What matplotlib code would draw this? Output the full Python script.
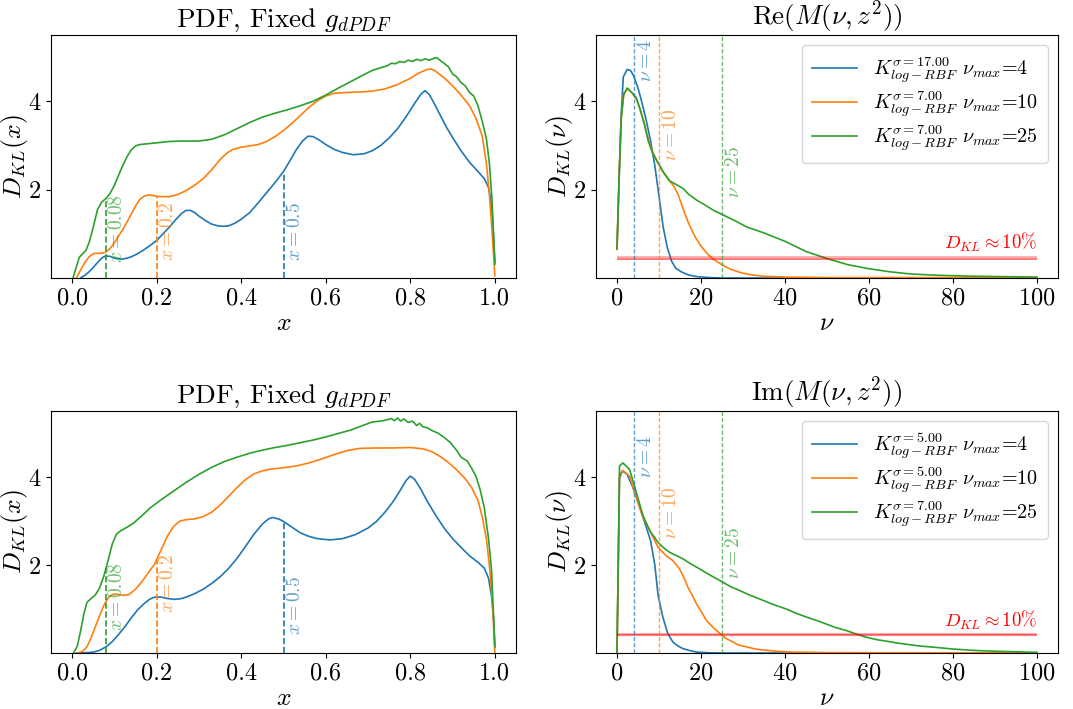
import numpy as np
import matplotlib
matplotlib.use("Agg")
import matplotlib.pyplot as plt

plt.rcParams.update({
    "font.family": "serif",
    "font.serif": ["cmr10", "DejaVu Serif"],
    "mathtext.fontset": "cm",
    "axes.formatter.use_mathtext": True,
    "axes.unicode_minus": False,
})

C_BLUE, C_ORANGE, C_GREEN = "#1f77b4", "#ff7f0e", "#2ca02c"

# ---------------- Top-left: PDF, fixed g_dPDF ----------------
tl_blue_x = [0.02, 0.03, 0.04, 0.05, 0.06, 0.07, 0.079, 0.09, 0.10, 0.11, 0.12, 0.13, 0.14, 0.155,
             0.17, 0.185, 0.2, 0.215, 0.23, 0.245, 0.26, 0.27, 0.28, 0.29, 0.30, 0.315, 0.33, 0.345,
             0.357, 0.37, 0.385, 0.40, 0.42, 0.44, 0.46, 0.48, 0.50, 0.515, 0.53, 0.545, 0.558,
             0.57, 0.585, 0.60, 0.62, 0.64, 0.665, 0.69, 0.71, 0.73, 0.75, 0.77, 0.79, 0.81, 0.825,
             0.835, 0.845, 0.855, 0.87, 0.885, 0.90, 0.92, 0.94, 0.96, 0.975, 0.985, 0.99, 0.995, 1.0]
tl_blue_y = [0.0, 0.06, 0.14, 0.24, 0.35, 0.45, 0.50, 0.49, 0.45, 0.43, 0.43, 0.45, 0.48, 0.55,
             0.64, 0.74, 0.85, 1.0, 1.15, 1.32, 1.47, 1.53, 1.53, 1.48, 1.40, 1.30, 1.22, 1.18,
             1.17, 1.18, 1.24, 1.33, 1.48, 1.70, 1.93, 2.16, 2.41, 2.65, 2.90, 3.10, 3.21,
             3.20, 3.12, 3.02, 2.91, 2.84, 2.79, 2.81, 2.88, 3.00, 3.17, 3.38, 3.65, 3.95, 4.16,
             4.24, 4.15, 3.98, 3.70, 3.42, 3.18, 2.88, 2.62, 2.41, 2.25, 2.05, 1.80, 1.30, 0.35]
tl_orange_x = [0.01, 0.02, 0.03, 0.04, 0.05, 0.06, 0.07, 0.08, 0.09, 0.10, 0.11, 0.12, 0.13, 0.14,
               0.15, 0.16, 0.17, 0.18, 0.19, 0.20, 0.215, 0.23, 0.25, 0.27, 0.29, 0.31, 0.33, 0.35,
               0.365, 0.38, 0.40, 0.42, 0.44, 0.46, 0.48, 0.50, 0.52, 0.54, 0.56, 0.58, 0.60, 0.62,
               0.65, 0.68, 0.71, 0.74, 0.77, 0.80, 0.82, 0.84, 0.85, 0.86, 0.88, 0.90, 0.92, 0.94,
               0.955, 0.97, 0.98, 0.987, 0.993, 1.0]
tl_orange_y = [0.0, 0.18, 0.35, 0.48, 0.55, 0.56, 0.56, 0.59, 0.67, 0.80, 0.95, 1.10, 1.27, 1.45,
               1.63, 1.78, 1.85, 1.88, 1.87, 1.85, 1.84, 1.84, 1.89, 1.98, 2.10, 2.25, 2.45, 2.68,
               2.82, 2.91, 2.96, 2.99, 3.02, 3.09, 3.20, 3.34, 3.50, 3.68, 3.86, 4.01, 4.12, 4.18,
               4.20, 4.21, 4.23, 4.28, 4.38, 4.52, 4.64, 4.72, 4.73, 4.68, 4.53, 4.35, 4.14, 3.90,
               3.62, 3.22, 2.60, 1.90, 1.10, 0.05]
tl_green_x = [0.002, 0.01, 0.017, 0.025, 0.033, 0.04, 0.05, 0.06, 0.07, 0.08, 0.09, 0.10, 0.11,
              0.12, 0.13, 0.14, 0.15, 0.16, 0.18, 0.20, 0.23, 0.26, 0.30, 0.33, 0.36, 0.39, 0.42,
              0.45, 0.48, 0.51, 0.54, 0.57, 0.60, 0.63, 0.66, 0.69, 0.71, 0.73, 0.745, 0.755, 0.765,
              0.775, 0.785, 0.795, 0.805, 0.815, 0.825, 0.835, 0.845, 0.855, 0.862, 0.87, 0.88,
              0.89, 0.90, 0.91, 0.92, 0.93, 0.94, 0.95, 0.96, 0.97, 0.98, 0.987, 0.993, 1.0]
tl_green_y = [0.0, 0.25, 0.47, 0.55, 0.63, 0.80, 1.15, 1.55, 1.72, 1.80, 1.92, 2.10, 2.33,
              2.55, 2.75, 2.90, 2.99, 3.02, 3.04, 3.06, 3.09, 3.10, 3.10, 3.14, 3.24, 3.38, 3.52,
              3.64, 3.73, 3.81, 3.90, 4.00, 4.14, 4.30, 4.45, 4.60, 4.70, 4.76, 4.80, 4.86, 4.85,
              4.90, 4.88, 4.93, 4.90, 4.95, 4.92, 4.96, 4.93, 4.97, 4.99, 4.93, 4.86,
              4.78, 4.62, 4.55, 4.42, 4.35, 4.20, 4.12, 3.90, 3.55, 3.15, 2.60, 1.80, 0.31]

# ---------------- Bottom-left ----------------
bl_blue_x = [0.01, 0.03, 0.05, 0.065, 0.08, 0.095, 0.11, 0.125, 0.14, 0.155, 0.17, 0.183, 0.195,
             0.21, 0.225, 0.24, 0.255, 0.27, 0.29, 0.31, 0.33, 0.35, 0.37, 0.39, 0.41, 0.43, 0.45,
             0.465, 0.475, 0.49, 0.50, 0.52, 0.54, 0.56, 0.58, 0.61, 0.64, 0.67, 0.70, 0.72, 0.74,
             0.76, 0.775, 0.79, 0.80, 0.81, 0.825, 0.84, 0.86, 0.88, 0.90, 0.92, 0.94, 0.96, 0.975,
             0.985, 0.992, 0.997, 1.0]
bl_blue_y = [0.0, 0.005, 0.02, 0.06, 0.14, 0.26, 0.42, 0.60, 0.80, 0.98, 1.12, 1.22, 1.27,
             1.27, 1.24, 1.22, 1.23, 1.27, 1.35, 1.45, 1.58, 1.73, 1.92, 2.15, 2.42, 2.70, 2.93,
             3.05, 3.08, 3.04, 2.99, 2.86, 2.73, 2.65, 2.60, 2.57, 2.60, 2.69, 2.84, 2.99, 3.20,
             3.45, 3.68, 3.92, 4.02, 3.95, 3.72, 3.45, 3.13, 2.84, 2.60, 2.40, 2.21, 2.06, 1.93,
             1.70, 1.30, 0.80, 0.14]
bl_orange_x = [0.013, 0.025, 0.035, 0.045, 0.055, 0.065, 0.075, 0.085, 0.095, 0.105, 0.12, 0.135,
               0.15, 0.165, 0.18, 0.195, 0.21, 0.225, 0.24, 0.255, 0.27, 0.29, 0.31, 0.33, 0.35,
               0.37, 0.39, 0.41, 0.43, 0.45, 0.47, 0.50, 0.53, 0.56, 0.59, 0.62, 0.65, 0.68, 0.72,
               0.76, 0.80, 0.83, 0.85, 0.87, 0.89, 0.91, 0.93, 0.945, 0.96, 0.97, 0.98, 0.988,
               0.994, 1.0]
bl_orange_y = [0.0, 0.04, 0.14, 0.35, 0.60, 0.85, 1.08, 1.25, 1.33, 1.34, 1.31, 1.33,
               1.45, 1.62, 1.82, 2.02, 2.33, 2.65, 2.88, 3.00, 3.03, 3.05, 3.10, 3.20, 3.36,
               3.56, 3.76, 3.94, 4.07, 4.14, 4.18, 4.21, 4.25, 4.32, 4.41, 4.51, 4.60, 4.65, 4.66,
               4.66, 4.67, 4.64, 4.58, 4.47, 4.33, 4.16, 3.96, 3.76, 3.47, 3.10, 2.60, 1.90,
               1.20, 0.02]
bl_green_x = [0.003, 0.012, 0.02, 0.028, 0.035, 0.045, 0.055, 0.065, 0.075, 0.085, 0.095, 0.105,
              0.115, 0.13, 0.145, 0.165, 0.185, 0.21, 0.24, 0.27, 0.30, 0.33, 0.36, 0.39, 0.42,
              0.45, 0.48, 0.51, 0.54, 0.57, 0.60, 0.63, 0.66, 0.69, 0.71, 0.73, 0.745, 0.755,
              0.762, 0.77, 0.777, 0.785, 0.795, 0.805, 0.815, 0.822, 0.83, 0.84, 0.85, 0.865,
              0.88, 0.895, 0.91, 0.92, 0.935, 0.945, 0.955, 0.965, 0.975, 0.985, 0.992, 1.0]
bl_green_y = [0.0, 0.15, 0.50, 0.90, 1.15, 1.24, 1.32, 1.48, 1.75, 2.10, 2.48, 2.70,
              2.78, 2.86, 2.95, 3.12, 3.30, 3.48, 3.68, 3.88, 4.06, 4.22, 4.35, 4.45, 4.54,
              4.61, 4.67, 4.72, 4.78, 4.84, 4.91, 4.99, 5.07, 5.18, 5.25, 5.27, 5.30, 5.33,
              5.28, 5.34, 5.27, 5.32, 5.24, 5.27, 5.17, 5.22, 5.14, 5.12, 5.06, 5.00,
              4.90, 4.78, 4.60, 4.45, 4.36, 4.20, 4.02, 3.72, 3.30, 2.60, 1.90, 0.14]

# ---------------- Top-right: Re(M(nu, z^2)) ----------------
tr_blue_x = [0, 0.5, 1.0, 1.5, 2.4, 3.2, 4.0, 5.0, 6.0, 7.0, 8.0, 9.0, 10.0, 11.0, 12.0, 13.0,
             14.0, 15.5, 17, 19, 22, 25, 40, 100]
tr_blue_y = [0.66, 2.2, 3.7, 4.55, 4.72, 4.70, 4.57, 4.30, 3.95, 3.55, 3.10, 2.55, 1.85, 1.15,
             0.68, 0.38, 0.22, 0.13, 0.07, 0.03, 0.01, 0.0, 0.0, 0.0]
tr_orange_x = [0, 0.5, 1.0, 1.6, 2.6, 3.5, 4.6, 5.5, 6.5, 7.5, 8.5, 9.8, 11, 12.5, 13.5, 14.5,
               15.7, 17, 18.5, 20, 21.5, 23, 25, 27, 29.5, 32, 35, 40, 50, 100]
tr_orange_y = [0.66, 2.3, 3.6, 4.18, 4.28, 4.20, 4.05, 3.82, 3.50, 3.12, 2.85, 2.60, 2.40, 2.20,
               2.08, 1.90, 1.58, 1.25, 0.95, 0.72, 0.55, 0.42, 0.30, 0.20, 0.12, 0.07, 0.04, 0.02,
               0.01, 0.01]
tr_green_x = [0, 0.5, 1.0, 1.6, 2.4, 3.5, 4.6, 5.5, 6.5, 7.5, 8.5, 9.8, 11, 12.5, 14, 15.7, 17,
              19, 21, 23, 25, 28, 31, 35, 40, 45, 50, 55, 60, 65, 70, 77, 85, 100]
tr_green_y = [0.66, 2.3, 3.6, 4.15, 4.30, 4.20, 4.08, 3.82, 3.48, 3.08, 2.82, 2.60, 2.40, 2.20,
              2.12, 2.03, 1.90, 1.76, 1.65, 1.53, 1.44, 1.30, 1.15, 1.02, 0.83, 0.60, 0.44, 0.30,
              0.21, 0.14, 0.09, 0.06, 0.04, 0.02]

# ---------------- Bottom-right: Im(M(nu, z^2)) ----------------
br_blue_x = [0, 0.3, 0.6, 1.3, 2.4, 3.8, 5.4, 7.0, 8.0, 9.0, 9.8, 10.9, 12.1, 13.3, 14.5, 15.7,
             17.5, 19, 22, 25, 100]
br_blue_y = [0.02, 2.0, 3.98, 4.14, 4.06, 3.76, 3.31, 2.85, 2.55, 2.00, 1.30, 0.82, 0.44, 0.25,
             0.16, 0.10, 0.05, 0.02, 0.005, 0.0, 0.0]
br_orange_x = [0, 0.3, 0.6, 1.4, 3.0, 4.6, 6.2, 7.8, 9.8, 11.7, 13.3, 14.9, 16, 16.9, 18, 18.9,
               20, 21.3, 23, 24.8, 26, 27.6, 29, 30.8, 33, 35.5, 38, 41.9, 50, 100]
br_orange_y = [0.02, 2.0, 4.06, 4.15, 4.02, 3.53, 3.08, 2.78, 2.40, 2.21, 2.10, 1.91, 1.70, 1.49,
               1.30, 1.12, 0.95, 0.74, 0.57, 0.42, 0.33, 0.25, 0.18, 0.14, 0.09, 0.06, 0.04, 0.02,
               0.01, 0.0]
br_green_x = [0, 0.3, 0.6, 1.4, 3.0, 4.6, 6.2, 7.8, 9.8, 11, 12.5, 14, 15.7, 17.5, 19.7, 22, 24.8,
              27, 29.2, 31.5, 33.9, 37, 40.3, 42.5, 45, 47.5, 49.8, 52, 54.6, 57, 59.3, 62, 64.1,
              66.5, 68.8, 72, 76.8, 80, 84.7, 90, 100]
br_green_y = [0.02, 2.1, 4.25, 4.32, 4.17, 3.65, 3.12, 2.78, 2.51, 2.40, 2.29, 2.22, 2.14, 2.03,
              1.91, 1.78, 1.63, 1.51, 1.42, 1.32, 1.23, 1.11, 1.00, 0.91, 0.82, 0.74, 0.66, 0.58,
              0.51, 0.43, 0.36, 0.30, 0.27, 0.23, 0.20, 0.16, 0.12, 0.09, 0.06, 0.04, 0.015]

x_marks = [0.08, 0.2, 0.5]
nu_marks = [4, 10, 25]
left_ticks = [0.0, 0.2, 0.4, 0.6, 0.8, 1.0]
right_ticks = [0, 20, 40, 60, 80, 100]
y_ticks = [2, 4]

legend_top = [r"$K^{\sigma=17.00}_{log-RBF}$ $\nu_{max}$=4",
              r"$K^{\sigma=7.00}_{log-RBF}$ $\nu_{max}$=10",
              r"$K^{\sigma=7.00}_{log-RBF}$ $\nu_{max}$=25"]
legend_bot = [r"$K^{\sigma=5.00}_{log-RBF}$ $\nu_{max}$=4",
              r"$K^{\sigma=5.00}_{log-RBF}$ $\nu_{max}$=10",
              r"$K^{\sigma=7.00}_{log-RBF}$ $\nu_{max}$=25"]

FS = 17.5
FS_TITLE = 19.5
FS_LABEL = 18.5
fig = plt.figure(figsize=(10.73, 7.09), dpi=100)
W, H = 1073, 709
def pos(l, r, t, b):
    return [l / W, 1 - b / H, (r - l) / W, (b - t) / H]

ax_tl = fig.add_axes(pos(51, 516, 35, 278))
ax_tr = fig.add_axes(pos(596, 1058, 35, 278))
ax_bl = fig.add_axes(pos(51, 516, 411, 653))
ax_br = fig.add_axes(pos(596, 1058, 411, 653))
colors = [C_BLUE, C_ORANGE, C_GREEN]


def common(ax, xlabel, ylabel, title):
    ax.set_ylim(0, 5.5)
    ax.set_yticks(y_ticks)
    ax.set_title(title, fontsize=FS_TITLE)
    ax.set_xlabel(xlabel, fontsize=FS_LABEL, labelpad=1)
    ax.set_ylabel(ylabel, fontsize=FS_LABEL)
    ax.yaxis.set_label_coords(-0.045, 0.5)
    ax.tick_params(labelsize=FS)


def left_panel(ax, series, text_y):
    for (xs, ys), c in zip(series, colors):
        ax.plot(xs, ys, color=c, lw=1.2)
    # dashed markers: green 0.08, orange 0.2, blue 0.5
    for xm, idx, ty in zip(x_marks, [2, 1, 0], text_y):
        xs, ys = series[idx]
        top = np.interp(xm, xs, ys)
        ax.vlines(xm, 0, top, colors=colors[idx], linestyles="--", lw=1.2)
        ax.text(xm + 0.006, ty, r"$x = %g$" % xm, rotation=90, color=colors[idx], alpha=0.7,
                fontsize=14, ha="left", va="bottom")
    ax.set_xlim(-0.05, 1.05)
    ax.set_xticks(left_ticks)
    ax.set_xticklabels(["%.1f" % v for v in left_ticks])
    common(ax, r"$x$", r"$D_{KL}(x)$", r"PDF, Fixed $g_{dPDF}$")


def right_panel(ax, series, labels, title, text_y):
    for (xs, ys), c, lab in zip(series, colors, labels):
        ax.plot(xs, ys, color=c, lw=1.2, label=lab)
    for (xs, ys) in series:
        ax.hlines(0.1 * max(ys), 0, 100, colors="red", alpha=0.3, lw=1.5)
    ax.text(100, 0.1 * max(series[0][1]) + 0.07, r"$D_{KL} \approx 10\%$", color="red",
            fontsize=13.5, ha="right", va="bottom")
    for nm, c, ty in zip(nu_marks, colors, text_y):
        ax.axvline(nm, color=c, ls="--", lw=1.0, alpha=0.7, dashes=(3, 1.5))
        ax.text(nm + 0.8, ty, r"$\nu = %d$" % nm, rotation=90, color=c, alpha=0.7,
                fontsize=14, ha="left", va="bottom")
    ax.set_xlim(-5, 105)
    ax.set_xticks(right_ticks)
    common(ax, r"$\nu$", r"$D_{KL}(\nu)$", title)
    ax.legend(loc="upper right", fontsize=14.5, handlelength=2.2, borderpad=0.5,
              labelspacing=0.2, handletextpad=0.8)


left_panel(ax_tl, [(tl_blue_x, tl_blue_y), (tl_orange_x, tl_orange_y), (tl_green_x, tl_green_y)],
           [0.33, 0.38, 0.38])
left_panel(ax_bl, [(bl_blue_x, bl_blue_y), (bl_orange_x, bl_orange_y), (bl_green_x, bl_green_y)],
           [0.50, 0.92, 0.40])
right_panel(ax_tr, [(tr_blue_x, tr_blue_y), (tr_orange_x, tr_orange_y), (tr_green_x, tr_green_y)],
            legend_top, r"$\mathrm{Re}(M(\nu, z^2))$", [4.44, 2.64, 1.81])
right_panel(ax_br, [(br_blue_x, br_blue_y), (br_orange_x, br_orange_y), (br_green_x, br_green_y)],
            legend_bot, r"$\mathrm{Im}(M(\nu, z^2))$", [3.98, 2.59, 1.69])

fig.savefig("out.png", dpi=100)
